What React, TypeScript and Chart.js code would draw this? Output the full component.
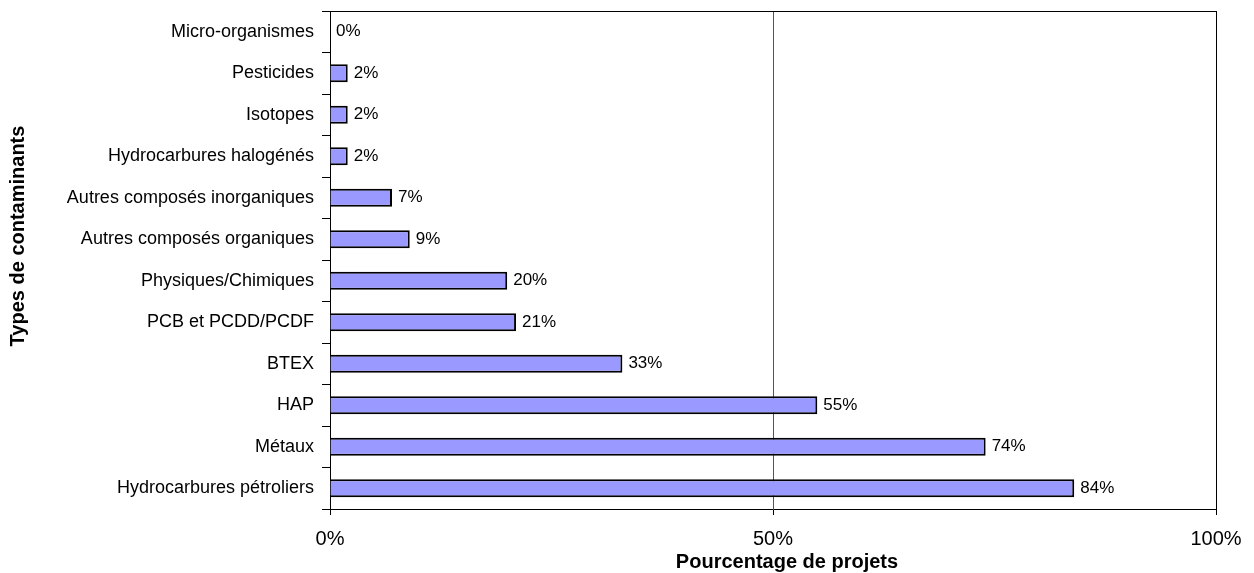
import React, { useEffect, useRef } from "react";
import { Chart, registerables } from "chart.js";
Chart.register(...registerables);

const categories = [
  "Micro-organismes",
  "Pesticides",
  "Isotopes",
  "Hydrocarbures halogénés",
  "Autres composés inorganiques",
  "Autres composés organiques",
  "Physiques/Chimiques",
  "PCB et PCDD/PCDF",
  "BTEX",
  "HAP",
  "Métaux",
  "Hydrocarbures pétroliers",
];
const values = [0, 2, 2, 2, 7, 9, 20, 21, 33, 55, 74, 84];
const xTicks = [0, 50, 100];
const xTitle = "Pourcentage de projets";
const yTitle = "Types de contaminants";

const FONT = "'Liberation Sans', Arial, sans-serif";

const decor = {
  id: "decor",
  afterDraw(chart: any) {
    const { ctx, chartArea } = chart;
    ctx.save();
    ctx.strokeStyle = "#000";
    ctx.lineWidth = 1;
    ctx.beginPath();
    ctx.moveTo(chartArea.left, chartArea.top + 0.5);
    ctx.lineTo(chartArea.right, chartArea.top + 0.5);
    ctx.moveTo(chartArea.right + 0.5, chartArea.top);
    ctx.lineTo(chartArea.right + 0.5, chartArea.bottom + 6);
    ctx.stroke();
    const meta = chart.getDatasetMeta(0);
    ctx.fillStyle = "#000";
    ctx.font = `17px ${FONT}`;
    ctx.textAlign = "left";
    ctx.textBaseline = "middle";
    meta.data.forEach((bar: any, i: number) => {
      ctx.fillText(values[i] + "%", bar.x + 6, bar.y);
    });
    ctx.font = `bold 20px ${FONT}`;
    ctx.textAlign = "center";
    ctx.fillText(xTitle, 787, 562);
    ctx.translate(18, 236);
    ctx.rotate(-Math.PI / 2);
    ctx.fillText(yTitle, 0, 0);
    ctx.restore();
  },
};

export default function App() {
  const ref = useRef<HTMLCanvasElement>(null);
  useEffect(() => {
    const chart = new Chart(ref.current!, {
      type: "bar",
      data: {
        labels: categories,
        datasets: [
          {
            data: values,
            backgroundColor: "#9999FF",
            borderColor: "#000",
            borderWidth: 2,
            barPercentage: 0.43,
            categoryPercentage: 1,
          },
        ],
      },
      options: {
        indexAxis: "y",
        animation: false,
        responsive: false,
        maintainAspectRatio: false,
        layout: { padding: { top: 11, right: 38, left: 0, bottom: 0 } },
        plugins: { legend: { display: false }, tooltip: { enabled: false } },
        scales: {
          x: {
            min: 0,
            max: 100,
            afterBuildTicks: (s: any) => {
              s.ticks = xTicks.map((v) => ({ value: v }));
            },
            afterFit: (s: any) => {
              s.height = 64;
              s.paddingLeft = 0;
              s.paddingRight = 0;
            },
            ticks: {
              color: "#000",
              font: { family: FONT, size: 20 },
              padding: 12,
              callback: (v: any) => v + "%",
            },
            grid: {
              color: (c: any) => (c.tick && c.tick.value === 50 ? "#555" : "rgba(0,0,0,0)"),
              tickColor: "#000",
              tickLength: 6,
              lineWidth: 1,
            },
            border: { display: true, color: "#000", width: 1 },
          },
          y: {
            afterFit: (s: any) => {
              s.width = 330;
              s.paddingTop = 0;
              s.paddingBottom = 0;
            },
            ticks: {
              color: "#000",
              font: { family: FONT, size: 18 },
              padding: 8,
              autoSkip: false,
            },
            grid: {
              offset: true,
              drawOnChartArea: false,
              tickColor: "#000",
              tickLength: 8,
            },
            border: { display: true, color: "#000", width: 1 },
          },
        },
      },
      plugins: [decor],
    });
    return () => chart.destroy();
  }, []);
  return (
    <div style={{ position: "fixed", left: 0, top: 0, width: 1254, height: 573, background: "#fff" }}>
      <canvas ref={ref} width={1254} height={573} />
    </div>
  );
}
